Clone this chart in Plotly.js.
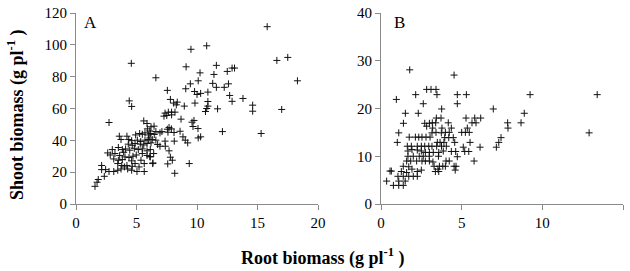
<!DOCTYPE html>
<html>
<head>
<meta charset="utf-8">
<script src="https://cdn.plot.ly/plotly-3.0.1.min.js"></script>
<style>html,body{margin:0;padding:0;background:#fff;}#chart{width:630px;height:271px;}</style>
</head>
<body>
<div id="chart"></div>
<script>
// Panel A: root biomass (g pl-1) vs shoot biomass (g pl-1)
const rootA = [15.8,16.6,17.5,18.3,12.9,13.1,13.8,12.9,12.7,14.6,14.6,17.0,15.3,
4.57,4.4,4.6,6.6,7.55,9.5,10.8,9.1,10.25,11.6,11.4,12.5,9.45,10.1,9.07,11.3,11.6,12.25,12.6,9.8,10.0,10.3,10.9,7.8,8.07,8.37,8.29,8.95,9.83,11.7,
10.9,10.9,10.8,10.7,
7.36,7.63,7.9,8.18,7.27,7.5,7.9,8.68,9.59,9.75,9.67,10.08,12.1,
6.2,6.45,6.1,6.6,6.94,7.1,7.55,7.69,7.88,8.1,7.6,8.6,8.84,9.03,9.23,10.1,10.3,
6.1,6.3,6.6,6.2,6.75,6.94,7.38,7.36,8.12,7.69,7.8,7.96,6.34,7.58,9.36,8.16,6.1,
2.73,5.6,5.87,5.9,
3.58,3.72,4.21,4.36,4.6,4.93,5.26,5.48,5.7,5.98,6.17,6.47,
5.07,5.35,5.7,5.98,
4.32,4.65,4.88,5.31,5.6,5.87,
3.0,3.5,3.83,4.1,4.44,3.94,
4.82,5.15,5.48,5.87,6.14,
2.62,2.83,3.22,3.61,
4.05,4.38,4.71,4.98,5.48,5.87,6.14,6.42,
3.12,3.5,3.83,4.6,5.37,
3.45,3.78,4.21,4.65,4.88,5.21,5.64,6.36,
2.12,2.12,2.45,2.73,3.12,3.45,3.72,4.0,
4.27,4.6,5.04,5.64,
2.34,1.84,1.74,1.57];
const shootA = [111.4,90.2,92.1,77.4,85.4,85.4,66.3,64.5,68.2,62.1,58.3,59.4,44.3,
88.4,64.8,61.3,79.3,71.4,97.2,99.4,86.2,82.4,87.1,81.4,83.3,75.5,77.4,72.4,75.8,73.3,73.3,75.5,70.7,68.8,69.5,70.3,65.7,63.4,64.0,62.3,61.5,63.4,59.8,
64.4,61.5,60.0,58.1,
57.1,57.7,57.7,57.7,55.2,55.6,56.0,53.3,51.4,52.5,48.7,47.4,45.5,
48.5,48.9,45.9,45.5,44.7,45.5,47.0,48.1,47.2,44.9,45.1,45.7,42.2,40.1,38.4,41.5,42.2,
41.5,40.5,40.1,38.4,37.4,36.3,36.3,39.5,39.5,33.4,29.4,27.5,25.4,25.2,25.4,19.3,29.8,
51.2,52.2,50.6,47.2,
42.6,40.5,42.6,40.5,39.8,43.4,44.3,43.8,44.7,43.4,44.3,43.7,
40.1,39.3,40.1,40.5,
37.6,36.9,38.0,37.6,37.1,38.0,
34.2,35.5,34.2,34.6,33.8,32.5,
35.0,34.2,34.6,33.4,34.2,
32.1,30.8,31.7,30.5,
29.6,29.2,30.0,30.8,31.7,30.5,29.6,31.7,
28.3,27.5,27.9,27.1,27.5,
25.4,24.2,24.2,23.7,25.4,23.3,25.4,25.8,
24.2,21.6,21.6,20.4,20.4,21.2,22.0,23.3,
22.0,21.2,20.4,20.4,
17.4,15.4,13.7,11.1];

// Panel B
const rootB = [1.78,4.53,2.83,3.1,3.41,2.15,3.47,4.73,5.29,9.24,13.4,0.95,2.62,4.73,1.51,2.31,3.76,6.96,8.88,3.43,3.72,5.27,5.81,6.18,
8.68,7.85,7.87,5.64,5.89,3.18,3.39,4.17,3.2,3.78,4.36,3.99,4.23,5.35,5.0,5.23,5.47,5.52,6.14,7.44,7.3,7.15,3.95,4.2,4.48,3.66,3.9,4.57,5.1,5.19,5.44,5.77,4.03,4.23,4.73,4.65,4.53,3.29,3.62,3.83,3.99,
1.39,1.1,1.01,2.71,3.0,2.83,
1.75,2.13,2.34,2.54,2.79,3.04,
1.63,1.88,2.25,2.5,2.71,2.96,3.16,3.49,
1.67,1.92,2.25,2.5,2.75,3.0,3.24,3.58,3.86,
1.67,2.0,2.37,2.62,2.99,3.56,
1.59,1.84,2.21,2.54,2.75,3.0,
3.22,3.53,3.58,3.37,
1.38,1.72,1.92,
1.26,1.59,2.25,2.5,
0.56,0.64,
1.05,1.38,1.72,2.0,2.25,
0.35,1.1,1.5,
0.77,1.1,1.38,
3.45,3.75,4.05,4.36,4.63,4.6,3.74,3.16,3.41,12.9];
const shootB = [28.1,27.0,24.0,24.0,24.0,22.9,22.9,22.9,22.9,22.9,22.9,21.9,21.0,21.0,19.0,19.0,19.9,19.9,19.0,18.0,18.0,18.0,18.0,18.0,
17.0,17.0,15.9,17.0,17.0,17.0,17.0,17.0,15.9,15.9,15.9,15.0,15.0,15.9,15.0,15.0,15.0,12.9,11.9,13.9,12.9,11.9,13.9,13.9,13.9,12.9,12.9,12.9,11.9,11.0,11.0,9.0,9.0,9.0,9.9,7.9,7.9,7.9,7.9,7.9,7.9,
16.9,14.9,12.9,16.9,16.9,16.3,
14.0,14.0,14.0,14.0,14.0,14.0,
12.1,12.1,12.1,12.1,12.1,12.1,12.1,12.9,
11.1,11.4,11.3,11.1,10.8,10.8,10.8,10.8,11.1,
10.0,10.0,10.0,10.0,10.0,10.0,
9.0,9.0,9.0,9.0,9.0,9.0,
8.8,7.3,6.8,6.8,
7.9,7.8,7.3,
6.8,6.6,6.8,7.1,
6.9,6.9,
5.8,5.8,5.8,5.8,5.8,
4.8,4.8,4.8,
3.9,3.9,3.9,
12.1,12.1,12.1,11.0,11.0,7.1,14.9,14.9,15.0,14.9];

const xTicksA = [0,5,10,15,20];
const yTicksA = [0,20,40,60,80,100,120];
const xTicksB = [0,5,10,15];
const yTicksB = [0,10,20,30,40];

const serif = "Liberation Serif";
const marker = {symbol: 'cross-thin', size: 5, color: '#111', line: {color: '#111', width: 1}};

const traces = [
  {x: rootA, y: shootA, type: 'scatter', mode: 'markers', marker: marker, xaxis: 'x', yaxis: 'y', cliponaxis: false, hoverinfo: 'skip'},
  {x: rootB, y: shootB, type: 'scatter', mode: 'markers', marker: marker, xaxis: 'x2', yaxis: 'y2', cliponaxis: false, hoverinfo: 'skip'}
];

function ax(domain, range, ticks, anchor) {
  return {
    domain: domain, range: range, tickmode: 'array', tickvals: ticks, ticktext: ticks.map(String),
    showgrid: false, zeroline: false, showline: true, linecolor: '#8a8a8a', linewidth: 1,
    ticks: 'outside', ticklen: 5, tickcolor: '#8a8a8a', tickwidth: 1,
    tickfont: {family: serif, size: 15, color: '#000'}, anchor: anchor, fixedrange: true
  };
}

const yDom = [1 - 204/271, 1 - 13/271];
const layout = {
  width: 630, height: 271,
  margin: {l: 0, r: 0, t: 0, b: 0},
  paper_bgcolor: '#fff', plot_bgcolor: '#fff',
  showlegend: false,
  xaxis: ax([76/630, 318/630], [0, 20], xTicksA, 'y'),
  yaxis: ax(yDom, [0, 120], yTicksA, 'x'),
  xaxis2: ax([381/630, 623/630], [0, 15], xTicksB, 'y2'),
  yaxis2: ax(yDom, [0, 40], yTicksB, 'x2'),
  annotations: [
    {text: 'A', xref: 'paper', yref: 'paper', x: 91/630, y: 1 - 23/271, xanchor: 'center', yanchor: 'middle', showarrow: false, font: {family: serif, size: 17, color: '#000'}},
    {text: 'B', xref: 'paper', yref: 'paper', x: 399/630, y: 1 - 22/271, xanchor: 'center', yanchor: 'middle', showarrow: false, font: {family: serif, size: 17, color: '#000'}},
    {text: '<b>Root biomass (g pl<sup>-1</sup> )</b>', xref: 'paper', yref: 'paper', x: 323/630, y: 1 - 257/271, xanchor: 'center', yanchor: 'middle', showarrow: false, font: {family: serif, size: 18, color: '#000'}},
    {text: '<b>Shoot biomass (g pl<sup>-1</sup> )</b>', xref: 'paper', yref: 'paper', x: 16/630, y: 1 - 115/271, xanchor: 'center', yanchor: 'middle', textangle: -90, showarrow: false, font: {family: serif, size: 18, color: '#000'}}
  ]
};

Plotly.newPlot('chart', traces, layout, {staticPlot: true, displayModeBar: false});
</script>
</body>
</html>
